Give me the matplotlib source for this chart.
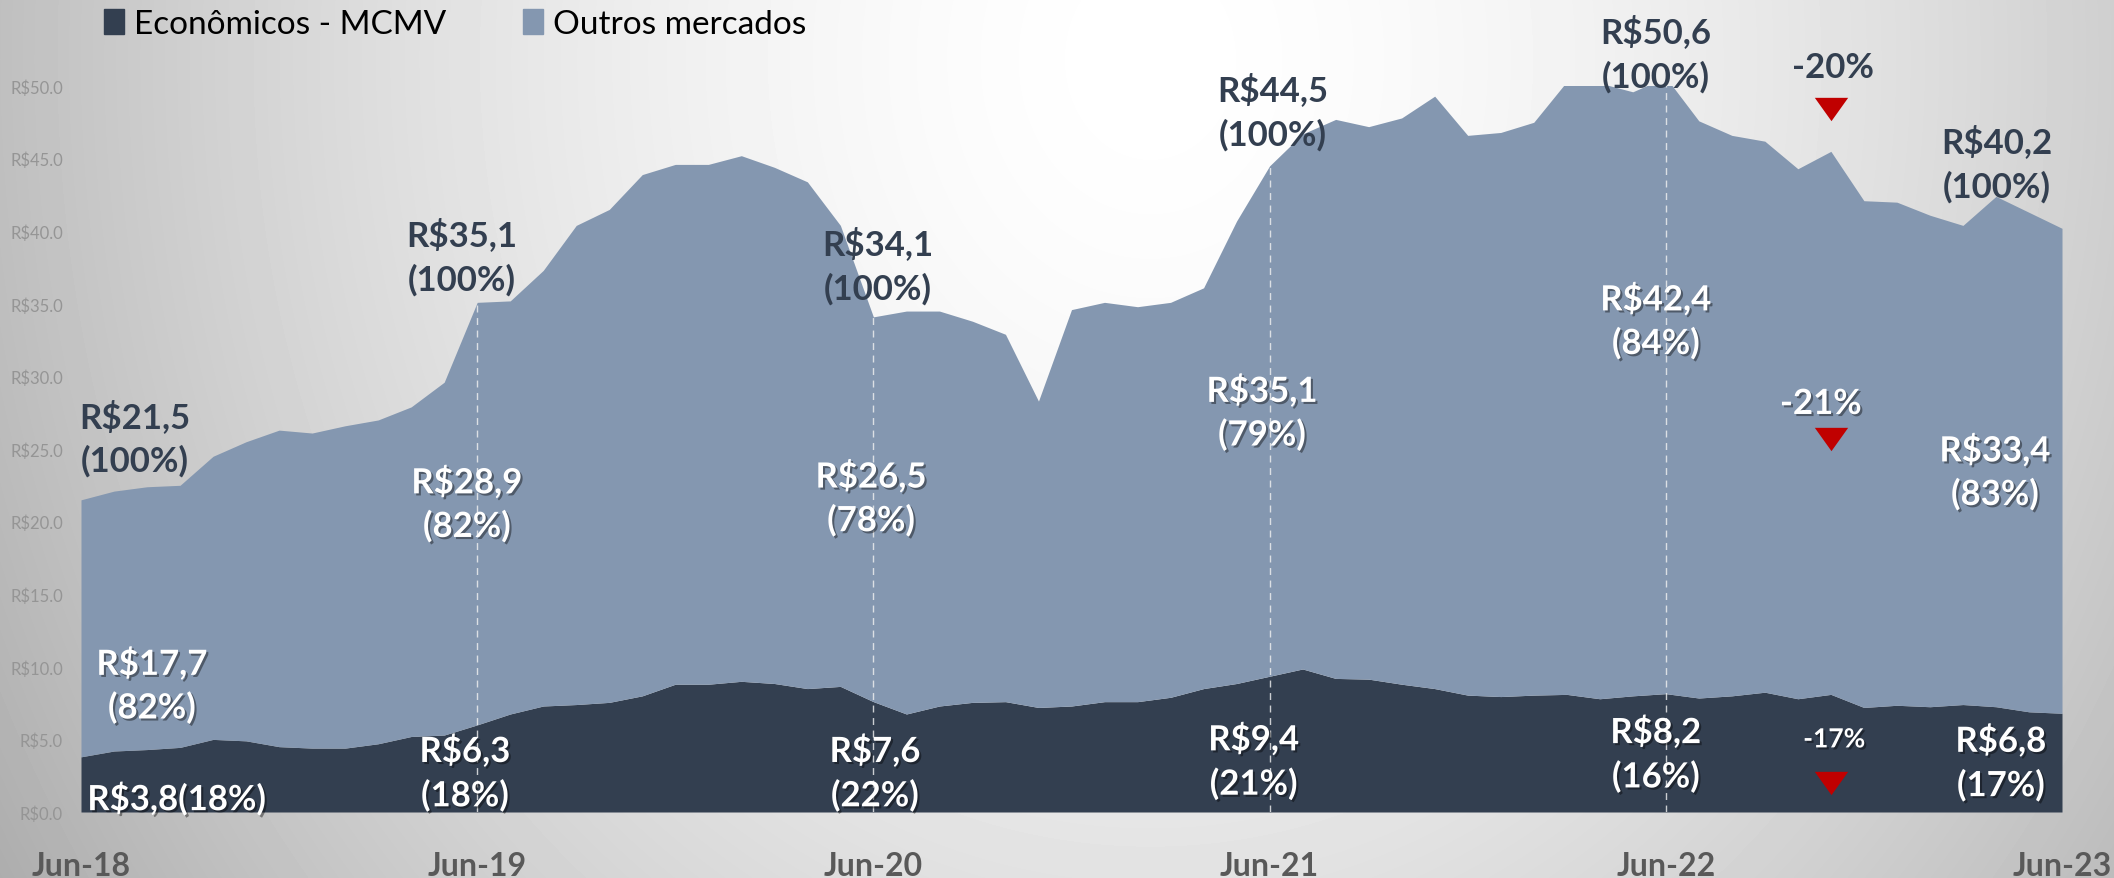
import numpy as np
import matplotlib
matplotlib.use("Agg")
import matplotlib.pyplot as plt
import matplotlib.patheffects as pe
from matplotlib.patches import Patch

plt.rcParams['font.family'] = ['Lato', 'DejaVu Sans']

# monthly data, Jun-18 .. Jun-23 (R$ bi)
total = [21.5, 22.1, 22.4, 22.5, 24.5, 25.5, 26.3, 26.1, 26.6, 27.0, 27.9, 29.6,
         35.1, 35.2, 37.3, 40.4, 41.5, 43.9, 44.6, 44.6, 45.2, 44.4, 43.4, 40.4,
         34.1, 34.5, 34.5, 33.8, 32.9, 28.3, 34.6, 35.1, 34.8, 35.1, 36.1, 40.7,
         44.5, 46.7, 47.7, 47.2, 47.8, 49.3, 46.6, 46.8, 47.5, 50.3, 50.2, 49.6,
         50.6, 47.6, 46.6, 46.2, 44.3, 45.5, 42.1, 42.0, 41.1, 40.4, 42.4, 41.3,
         40.2]
mcmv = [3.8, 4.2, 4.3, 4.45, 5.0, 4.9, 4.5, 4.4, 4.4, 4.7, 5.2, 5.3,
        6.0, 6.75, 7.3, 7.4, 7.55, 8.0, 8.8, 8.8, 9.0, 8.85, 8.5, 8.65,
        7.6, 6.75, 7.3, 7.55, 7.6, 7.2, 7.3, 7.6, 7.6, 7.9, 8.5, 8.85,
        9.35, 9.85, 9.2, 9.15, 8.8, 8.5, 8.05, 7.95, 8.05, 8.1, 7.8, 8.0,
        8.15, 7.85, 8.0, 8.25, 7.8, 8.1, 7.2, 7.35, 7.25, 7.4, 7.25, 6.9,
        6.8]
xtick_labels = ["Jun-18", "Jun-19", "Jun-20", "Jun-21", "Jun-22", "Jun-23"]
series_names = ["Econômicos - MCMV", "Outros mercados"]

tot_txt = ["R$21,5", "R$35,1", "R$34,1", "R$44,5", "R$50,6", "R$40,2"]
tot_pct = ["(100%)"] * 6
out_txt = ["R$17,7", "R$28,9", "R$26,5", "R$35,1", "R$42,4", "R$33,4"]
out_pct = ["(82%)", "(82%)", "(78%)", "(79%)", "(84%)", "(83%)"]
eco_first = "R$3,8(18%)"
eco_txt = ["R$6,3", "R$7,6", "R$9,4", "R$8,2", "R$6,8"]
eco_pct = ["(18%)", "(22%)", "(21%)", "(16%)", "(17%)"]
var_txt = ["-20%", "-21%", "-17%"]
var_month = 53  # Nov-22

C_ECO = "#333f50"
C_OUT = "#8497b0"
C_RED = "#c00000"

W, H = 2114, 879
fig = plt.figure(figsize=(W / 100, H / 100), dpi=100)

# radial grey background
bg = fig.add_axes([0, 0, 1, 1], zorder=-10)
yy, xx = np.mgrid[0:H, 0:W]
r = np.sqrt(((xx - 1150) / 1150.0) ** 2 + ((yy - 60) / 1350.0) ** 2)
shade = 1 - 0.25 * np.clip(r, 0, 1.2) ** 1.6
bg.imshow(shade, cmap="gray", vmin=0, vmax=1, aspect="auto")
bg.axis("off")

ax = fig.add_axes([81 / W, 66 / H, 1981 / W, 726 / H])
ax.set_facecolor("none")
x = np.arange(len(total))
ax.fill_between(x, 0, mcmv, color=C_ECO, lw=0, zorder=2)
ax.fill_between(x, mcmv, total, color=C_OUT, lw=0, zorder=2)
ax.set_xlim(0, 60)
ax.set_ylim(0, 50)

for m in [12, 24, 36, 48]:
    ax.vlines(m, 0, total[m], colors="#f2f2f2", linestyles=(0, (5, 4)), lw=1, alpha=0.8, zorder=3)

ax.set_yticks(np.arange(0, 51, 5))
ax.set_yticklabels(["R$%.1f" % v for v in np.arange(0, 51, 5)], color="#959595", fontsize=12)
ax.set_xticks(np.arange(0, 61, 12))
ax.set_xticklabels(xtick_labels, color="#595959", fontsize=23, fontweight="bold")
ax.tick_params(axis="x", length=0, pad=28)
ax.tick_params(axis="y", length=0, pad=13)
for s in ax.spines.values():
    s.set_visible(False)

shadow = [pe.SimplePatchShadow(offset=(1.5, -1.5), shadow_rgbFace="black", alpha=0.4), pe.Normal()]
fs = 25

def lbl(xp, yp, t, color, size=fs, fx=None):
    ax.text(xp, yp, t, ha="center", va="center", fontsize=size, fontweight="bold",
            color=color, path_effects=fx, zorder=5)

# totals (above the area)
tx = [1.64, 11.54, 24.14, 36.1, 47.7, 58.03]
ty = [27.3, 39.8, 39.2, 49.8, 53.8, 46.2]
for i in range(6):
    lbl(tx[i], ty[i], tot_txt[i], C_ECO)
    lbl(tx[i], ty[i] - 3.1, tot_pct[i], C_ECO)

# outros mercados
ox = [2.15, 11.69, 23.93, 35.77, 47.7, 57.97]
oy = [10.2, 22.7, 23.1, 29.0, 35.3, 24.9]
for i in range(6):
    lbl(ox[i], oy[i], out_txt[i], "white", fx=shadow)
    lbl(ox[i], oy[i] - 3.05, out_pct[i], "white", fx=shadow)

# econômicos
lbl(2.9, 0.9, eco_first, "white", fx=shadow)
ex = [11.63, 24.05, 35.52, 47.7, 58.15]
ey = [4.2, 4.2, 5.0, 5.5, 4.9]
for i in range(5):
    lbl(ex[i], ey[i], eco_txt[i], "white", fx=shadow)
    lbl(ex[i], ey[i] - 3.1, eco_pct[i], "white", fx=shadow)

# variations with red triangles
tri = [(-1, 0.7), (1, 0.7), (0, -0.7)]
lbl(var_month + 0.06, 51.3, var_txt[0], C_ECO)
lbl(var_month - 0.3, 28.1, var_txt[1], "white", fx=shadow)
lbl(var_month + 0.1, 5.0, var_txt[2], "white", size=19, fx=shadow)
ax.scatter([var_month] * 3, [48.4, 25.7, 2.0], marker=tri, s=24 ** 2, color=C_RED,
           lw=0, zorder=6, clip_on=False)

handles = [Patch(color=C_ECO), Patch(color=C_OUT)]
fig.legend(handles, series_names, loc="center left", bbox_to_anchor=(104 / W, 1 - 25 / H),
           ncol=2, frameon=False, fontsize=24, handlelength=0.6, handleheight=0.75,
           handletextpad=0.3, columnspacing=2.3, borderaxespad=0, borderpad=0)

fig.savefig("out.png", dpi=100)
